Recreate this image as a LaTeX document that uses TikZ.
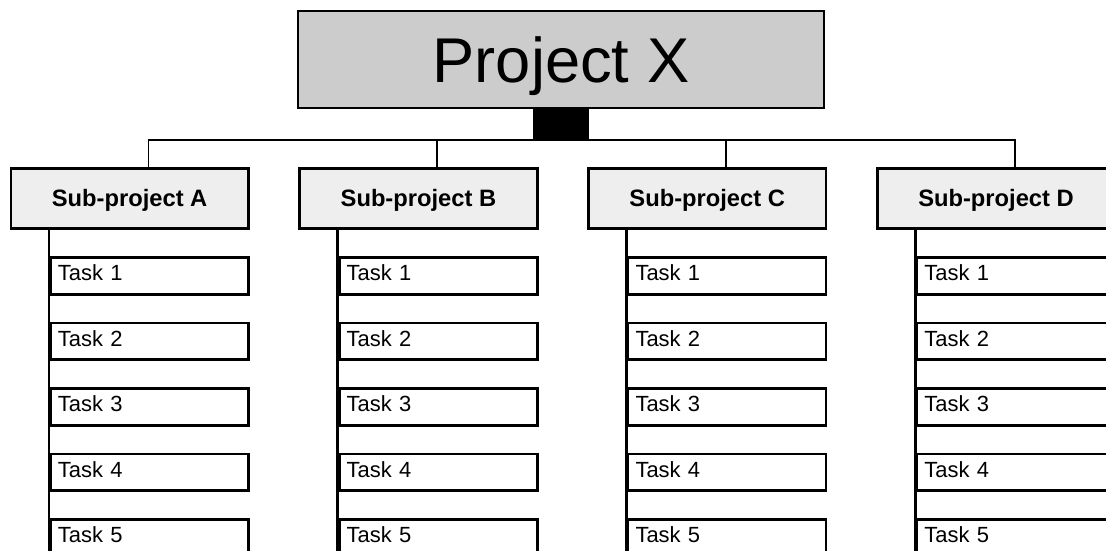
\documentclass[tikz,border=0pt]{standalone}
\usepackage{fontspec}
\setmainfont{Liberation Sans}
\usetikzlibrary{calc}
\definecolor{topgray}{RGB}{204, 204, 204}
\definecolor{subgray}{RGB}{238, 238, 238}
\tikzset{
  mainbox/.style = {draw, fill = topgray, line width = 1.6pt, minimum width = 10.52cm, minimum height = 1.94cm, inner sep = 0pt, text height = 25.8pt, text depth = 0pt, font = \fontsize{36}{36}\selectfont},
  hubbox/.style = {draw, fill = black, line width = 1pt, minimum width = 1.1cm, minimum height = 0.58cm, inner sep = 0pt},
  subbox/.style = {draw, fill = subgray, line width = 1.6pt, anchor = north west, minimum width = 4.75cm, minimum height = 1.2cm, inner sep = 0pt, text height = 9.7pt, text depth = 0pt, font = \bfseries\fontsize{13.5}{13.5}\selectfont},
  taskbox/.style = {draw, fill = white, line width = 1.6pt, anchor = north west, text width = 3.66cm, align = left, inner xsep = 0.15cm, inner ysep = 0pt, minimum height = 0.74cm, text height = 9pt, text depth = 3.4pt, font = \fontsize{12.5}{12.5}\selectfont},
  link/.style = {line width = 1.1pt},
  spine/.style = {line width = 1.6pt}
}
\begin{document}
\begin{tikzpicture}[x = 0.02cm, y = -0.02cm]
\useasboundingbox (0,0) rectangle (1106,551);
% project and sub-projects
\node[mainbox] (proj) at (561, 59.5) {Project X};
\node[hubbox, anchor = north] (hub) at (proj.south) {};
\node[subbox] (subA) at (9.5, 167) {Sub-project A};
\node[subbox] (subB) at (298.3, 167) {Sub-project B};
\node[subbox] (subC) at (587.1, 167) {Sub-project C};
\node[subbox] (subD) at (875.9, 167) {Sub-project D};
\coordinate (inA) at ($(subA.north west) + (139, 0)$);
\coordinate (inB) at ($(subB.north west) + (139, 0)$);
\coordinate (inC) at ($(subC.north west) + (139, 0)$);
\coordinate (inD) at ($(subD.north west) + (139, 0)$);
\draw[link] (hub.south) -| (inA);
\draw[link] (hub.south) -| (inB);
\draw[link] (hub.south) -| (inC);
\draw[link] (hub.south) -| (inD);
% tasks of A
\node[taskbox] (a1) at (49, 256) {Task 1};
\node[taskbox] (a2) at (49, 321.5) {Task 2};
\node[taskbox] (a3) at (49, 387) {Task 3};
\node[taskbox] (a4) at (49, 452.5) {Task 4};
\node[taskbox] (a5) at (49, 518) {Task 5};
% tasks of B
\node[taskbox] (b1) at (337.8, 256) {Task 1};
\node[taskbox] (b2) at (337.8, 321.5) {Task 2};
\node[taskbox] (b3) at (337.8, 387) {Task 3};
\node[taskbox] (b4) at (337.8, 452.5) {Task 4};
\node[taskbox] (b5) at (337.8, 518) {Task 5};
% tasks of C
\node[taskbox] (c1) at (626.6, 256) {Task 1};
\node[taskbox] (c2) at (626.6, 321.5) {Task 2};
\node[taskbox] (c3) at (626.6, 387) {Task 3};
\node[taskbox] (c4) at (626.6, 452.5) {Task 4};
\node[taskbox] (c5) at (626.6, 518) {Task 5};
% tasks of D
\node[taskbox] (d1) at (915.4, 256) {Task 1};
\node[taskbox] (d2) at (915.4, 321.5) {Task 2};
\node[taskbox] (d3) at (915.4, 387) {Task 3};
\node[taskbox] (d4) at (915.4, 452.5) {Task 4};
\node[taskbox] (d5) at (915.4, 518) {Task 5};
\draw[spine] (subA.south -| a1.west) -- (a5.south west);
\draw[spine] (subB.south -| b1.west) -- (b5.south west);
\draw[spine] (subC.south -| c1.west) -- (c5.south west);
\draw[spine] (subD.south -| d1.west) -- (d5.south west);
\end{tikzpicture}
\end{document}
